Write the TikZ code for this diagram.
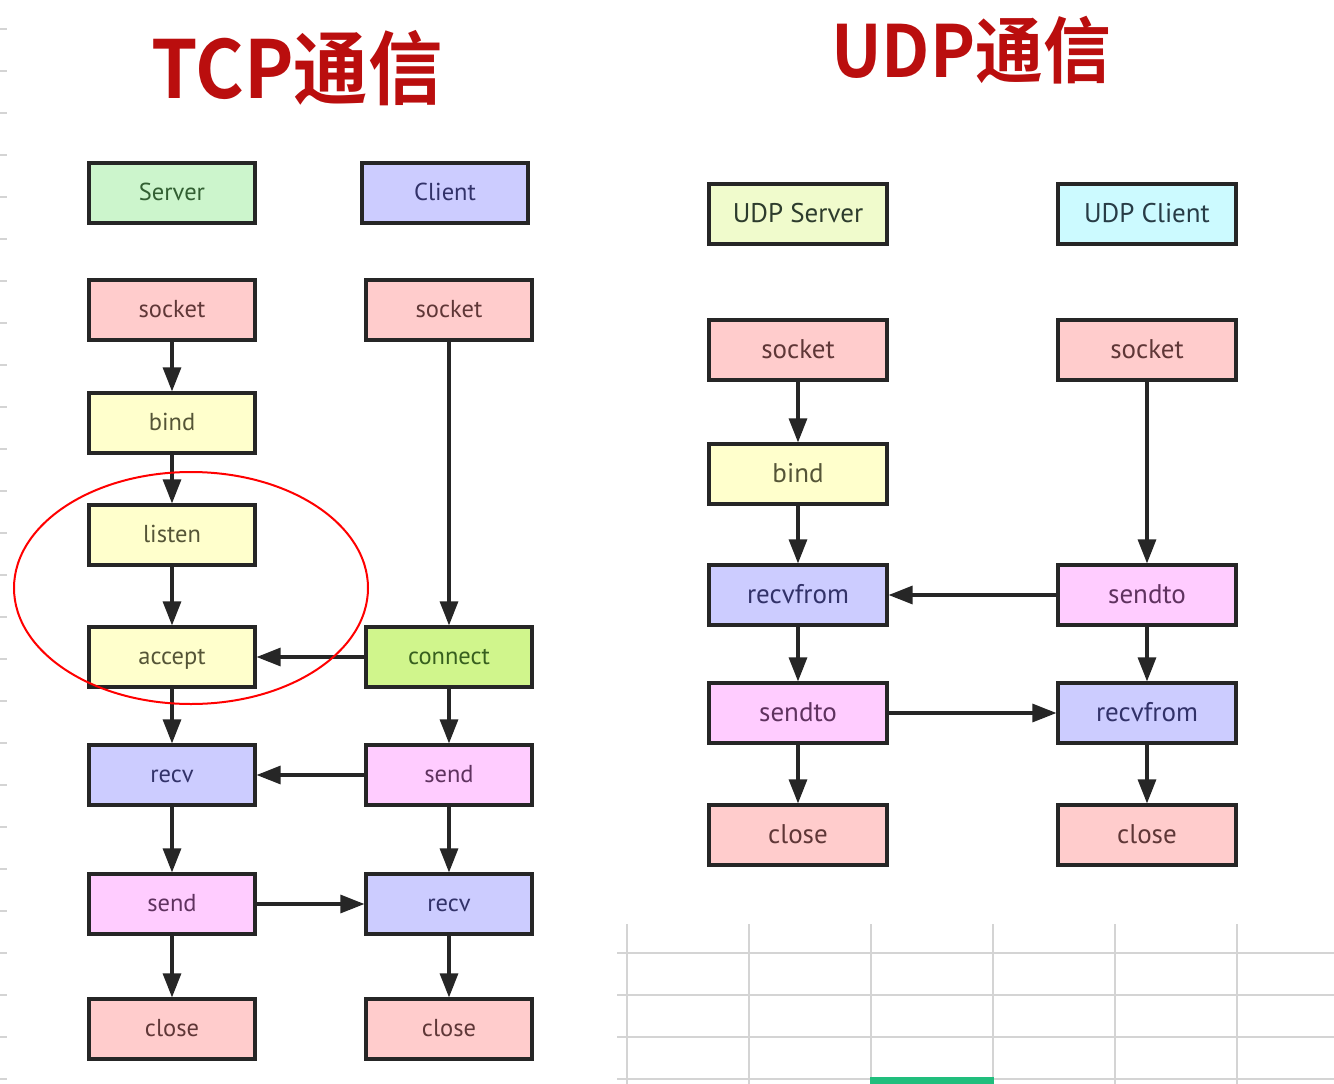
\documentclass[tikz,border=0pt]{standalone}
\usepackage{fontspec}
\setmainfont{PT Sans}
\newfontfamily\cjk{Noto Sans CJK SC}[BoldFont={* Bold}]
\usetikzlibrary{arrows.meta}
\definecolor{bord}{HTML}{262626}
\definecolor{ttl}{HTML}{BA0E0E}
\definecolor{gridc}{RGB}{212,212,212}
\definecolor{selc}{RGB}{33,190,125}
\definecolor{fgreen}{RGB}{204,245,204}\definecolor{tgreen}{RGB}{50,95,50}
\definecolor{fblue}{RGB}{204,204,255}\definecolor{tblue}{RGB}{50,50,105}
\definecolor{fred}{RGB}{255,204,204}\definecolor{tred}{RGB}{95,55,55}
\definecolor{fyel}{RGB}{255,255,204}\definecolor{tyel}{RGB}{85,85,55}
\definecolor{flime}{RGB}{208,245,140}\definecolor{tlime}{RGB}{55,95,30}
\definecolor{fpink}{RGB}{255,204,255}\definecolor{tpink}{RGB}{95,50,95}
\definecolor{fuyel}{RGB}{240,251,204}\definecolor{tuyel}{RGB}{45,60,45}
\definecolor{fcyan}{RGB}{204,250,255}\definecolor{tcyan}{RGB}{40,60,70}
\tikzset{
  box/.style={draw=bord, line width=3.2pt, minimum width=166pt, minimum height=60pt, inner sep=0pt, text height=20pt, text depth=5pt, font=\fontsize{24.5}{28}\selectfont},
  ubox/.style={box, minimum width=178pt, text height=21pt, text depth=5pt, font=\fontsize{27}{30}\selectfont},
  flow/.style={draw=bord, line width=3.2pt, -{Triangle[width=18pt,length=24pt]}},
  cgreen/.style={fill=fgreen, text=tgreen},
  cblue/.style={fill=fblue, text=tblue},
  cred/.style={fill=fred, text=tred},
  cyel/.style={fill=fyel, text=tyel},
  clime/.style={fill=flime, text=tlime},
  cpink/.style={fill=fpink, text=tpink},
  cuyel/.style={fill=fuyel, text=tuyel},
  ccyan/.style={fill=fcyan, text=tcyan},
  grid/.style={draw=gridc, line width=1.6pt},
}
\begin{document}
\begin{tikzpicture}[x=1pt,y=-1pt]
\useasboundingbox[fill=white] (0,0) rectangle (1334,1084);
% left tick marks
\foreach \k in {0,...,25} { \draw[grid] (0,29+42*\k) -- (7,29+42*\k); }
% spreadsheet grid
\foreach \gx in {627,749,871,993,1115,1237} { \draw[grid] (\gx,924) -- (\gx,1084); }
\foreach \gy in {953,995,1037,1079} { \draw[grid] (617,\gy) -- (1334,\gy); }
\fill[selc] (870,1077) rectangle (994,1084);
% titles
\node[text=ttl, font=\cjk\bfseries\fontsize{80}{90}\selectfont, inner sep=0pt, xscale=0.93] (t1) at (297,68) {TCP通信};
\node[text=ttl, font=\cjk\bfseries\fontsize{72}{82}\selectfont, inner sep=0pt, xscale=0.94] (t2) at (971,50) {UDP通信};
% TCP boxes
\node[box,cgreen] (srv) at (172,193) {Server};
\node[box,cblue] (cli) at (445,193) {Client};
\node[box,cred] (s1) at (172,310) {socket};
\node[box,cred] (c1) at (449,310) {socket};
\node[box,cyel] (s2) at (172,423) {bind};
\node[box,cyel] (s3) at (172,535) {listen};
\node[box,cyel] (s4) at (172,657) {accept};
\node[box,clime] (c4) at (449,657) {connect};
\node[box,cblue] (s5) at (172,775) {recv};
\node[box,cpink] (c5) at (449,775) {send};
\node[box,cpink] (s6) at (172,904) {send};
\node[box,cblue] (c6) at (449,904) {recv};
\node[box,cred] (s7) at (172,1029) {close};
\node[box,cred] (c7) at (449,1029) {close};
\draw[flow] (s1) -- (s2);
\draw[flow] (s2) -- (s3);
\draw[flow] (s3) -- (s4);
\draw[flow] (s4) -- (s5);
\draw[flow] (s5) -- (s6);
\draw[flow] (s6) -- (s7);
\draw[flow] (c1) -- (c4);
\draw[flow] (c4) -- (c5);
\draw[flow] (c5) -- (c6);
\draw[flow] (c6) -- (c7);
\draw[flow] (c4) -- (s4);
\draw[flow] (c5) -- (s5);
\draw[flow] (s6) -- (c6);
% red ellipse
\draw[red, line width=2pt] (191,588) ellipse [x radius=177, y radius=116];
% UDP boxes
\node[ubox,cuyel] (us) at (798,214) {UDP Server};
\node[ubox,ccyan] (uc) at (1147,214) {UDP Client};
\node[ubox,cred] (u1) at (798,350) {socket};
\node[ubox,cred] (v1) at (1147,350) {socket};
\node[ubox,cyel] (u2) at (798,474) {bind};
\node[ubox,cblue] (u3) at (798,595) {recvfrom};
\node[ubox,cpink] (v3) at (1147,595) {sendto};
\node[ubox,cpink] (u4) at (798,713) {sendto};
\node[ubox,cblue] (v4) at (1147,713) {recvfrom};
\node[ubox,cred] (u5) at (798,835) {close};
\node[ubox,cred] (v5) at (1147,835) {close};
\draw[flow] (u1) -- (u2);
\draw[flow] (u2) -- (u3);
\draw[flow] (u3) -- (u4);
\draw[flow] (u4) -- (u5);
\draw[flow] (v1) -- (v3);
\draw[flow] (v3) -- (v4);
\draw[flow] (v4) -- (v5);
\draw[flow] (v3) -- (u3);
\draw[flow] (u4) -- (v4);
\end{tikzpicture}
\end{document}
